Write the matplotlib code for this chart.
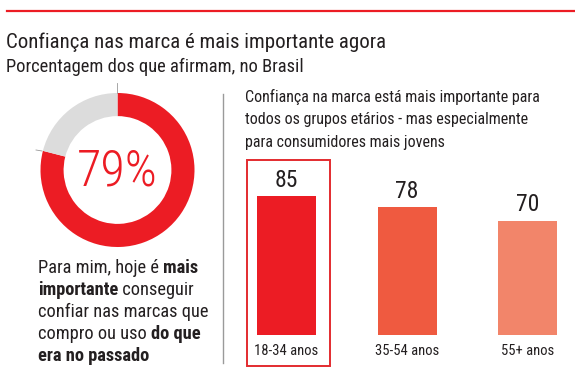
import matplotlib
matplotlib.use("Agg")
import matplotlib.pyplot as plt
from matplotlib.patches import Rectangle
from matplotlib.lines import Line2D

# data
share_value = 79
age_groups = ["18-34 anos", "35-54 anos", "55+ anos"]
age_values = [85, 78, 70]
bar_colors = ["#ec1c24", "#ef5a40", "#f2856a"]

title = "Confiança nas marca é mais importante agora"
subtitle = "Porcentagem dos que afirmam, no Brasil"
bar_header = ["Confiança na marca está mais importante para",
              "todos os grupos etários - mas especialmente",
              "para consumidores mais jovens"]
# (text, bold) pieces for each line of the note
note_lines = [
    [("Para mim, hoje é ", False), ("mais", True)],
    [("importante", True), (" conseguir", False)],
    [("confiar nas marcas que", False)],
    [("compro ou uso ", False), ("do que", True)],
    [("era no passado", True)],
]

RED = "#ec1c24"
GREY = "#dcdcdc"
TXT = "#231f20"

plt.rcParams["font.family"] = ["Roboto Condensed", "Barlow Semi Condensed", "Roboto", "DejaVu Sans"]

W, H = 575, 388
fig = plt.figure(figsize=(W / 100, H / 100), dpi=100)
fig.patch.set_facecolor("white")


def fx(px):
    return px / W


def fy(py):
    return 1 - py / H


# top rule
fig.add_artist(Line2D([fx(7), fx(575)], [fy(11), fy(11)], color=RED, lw=1.6))

fig.text(fx(6), fy(42), title, fontsize=15, color=TXT, va="center", ha="left")
fig.text(fx(6), fy(67), subtitle, fontsize=13.3, color=TXT, va="center", ha="left")

# donut
r_px = 77
cx, cy = 117.5, 170
ax_d = fig.add_axes([fx(cx - r_px), fy(cy + r_px), 2 * r_px / W, 2 * r_px / H])
ax_d.pie([share_value, 100 - share_value], colors=[RED, GREY], startangle=90,
         counterclock=False, radius=1, wedgeprops=dict(width=0.3, linewidth=0))
ax_d.set_xlim(-1, 1)
ax_d.set_ylim(-1, 1)
ax_d.set_aspect("auto")
ax_d.axis("off")
ax_d.text(0, -0.02, f"{share_value}%", fontsize=36, fontweight="light", color=RED,
          ha="center", va="center")

# small leader ticks
fig.add_artist(Line2D([fx(117), fx(117)], [fy(83), fy(93)], color="#999999", lw=0.6))
fig.add_artist(Line2D([fx(36), fx(42)], [fy(150), fy(151)], color="#999999", lw=0.6))

# note text with mixed bold
renderer = fig.canvas.get_renderer()
y0 = 268
for i, line in enumerate(note_lines):
    x = fx(38)
    for txt, bold in line:
        t = fig.text(x, fy(y0 + i * 22), txt, fontsize=13.2, color=TXT,
                     fontweight="semibold" if bold else "normal", va="center", ha="left")
        bb = t.get_window_extent(renderer=renderer)
        x = bb.x1 / W

# divider
fig.add_artist(Line2D([fx(223), fx(223)], [fy(94), fy(363)], color="#9a9a9a", lw=1.0))

# bar header
for i, line in enumerate(bar_header):
    fig.text(fx(245), fy(97 + i * 22.5), line, fontsize=11.5, color=TXT,
             va="center", ha="left")

# bars
step = 120.5
x_first = 286.5
left_px, right_px = 226, 575
base_px, top_px = 335, 155
ax = fig.add_axes([fx(left_px), fy(base_px), (right_px - left_px) / W, (base_px - top_px) / H])
ax.set_xlim((left_px - x_first) / step, (right_px - x_first) / step)
ax.set_ylim(0, (base_px - top_px) / 1.635)
xs = list(range(len(age_values)))
ax.bar(xs, age_values, width=59 / step, color=bar_colors, linewidth=0)
for x, v in zip(xs, age_values):
    ax.annotate(str(v), (x, v), xytext=(0, 3), textcoords="offset points",
                ha="center", va="bottom", fontsize=17, color=TXT)
    ax.text(x, -16 / 1.635, age_groups[x], ha="center", va="center",
            fontsize=10.5, color=TXT)
ax.axis("off")

# highlight box around first group
ax.add_patch(Rectangle((-0.33, -19), 0.69, 126, fill=False, edgecolor="#e32b2f",
                       lw=1.4, clip_on=False))

fig.savefig("out.png", dpi=100, facecolor="white")
